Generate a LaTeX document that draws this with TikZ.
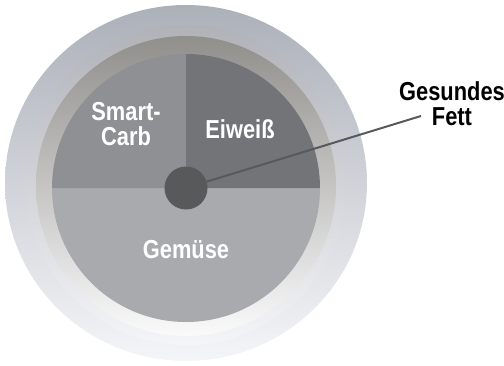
\documentclass[tikz,border=0pt]{standalone}
\usepackage{fontspec}
\newfontfamily\platefont{Liberation Sans}[FakeStretch=0.84]
\usepackage{tikz}
\usetikzlibrary{positioning,calc}
\definecolor{rimtop}{RGB}{172,176,185}
\definecolor{rimmid}{RGB}{206,208,214}
\definecolor{rimbot}{RGB}{244,245,248}
\definecolor{liptop}{RGB}{176,178,184}
\definecolor{lipmid}{RGB}{220,222,227}
\definecolor{welltop}{RGB}{145,143,140}
\definecolor{wellmid}{RGB}{205,206,210}
\definecolor{wellbot}{RGB}{250,250,251}
\definecolor{carbgray}{RGB}{143,144,148}
\definecolor{eiweissgray}{RGB}{115,116,120}
\definecolor{gemuesegray}{RGB}{169,170,174}
\definecolor{fatgray}{RGB}{88,89,91}

\begin{document}
\begin{tikzpicture}[
        x=1pt, y=1pt,
        every node/.style={font=\platefont\bfseries\fontsize{26}{25}\selectfont, inner sep=0pt},
        portion/.style={text=white, align=center},
        callout/.style={text=black, align=center},
    ]
        \useasboundingbox (0,0) rectangle (504,365);

        % Teller
        \shade[top color=rimtop, middle color=rimmid, bottom color=rimbot] (186,182) ellipse [x radius=181, y radius=178];
        \shade[top color=liptop, middle color=lipmid, bottom color=rimbot] (186,180) circle [radius=160];
        \shade[top color=welltop, middle color=wellmid, bottom color=wellbot] (186,179) circle [radius=150];

        % Portionen
        \fill[gemuesegray] (186,177) -- (52,177) arc[start angle=180, end angle=360, radius=134] -- cycle;
        \fill[carbgray] (186,177) -- (186,311) arc[start angle=90, end angle=180, radius=134] -- cycle;
        \fill[eiweissgray] (186,177) -- (320,177) arc[start angle=0, end angle=90, radius=134] -- cycle;

        \node[portion] (carb) at (126,241) {Smart-\\Carb};
        \node[portion] (eiweiss) at (240,236) {Eiwei\ss};
        \node[portion] (gemuese) at (186,115) {Gemüse};

        \node[circle, fill=fatgray, minimum size=43pt] (fat) at (186,177) {};
        \coordinate (fatend) at (421,249);
        \draw[fatgray, line width=2pt] (fat) -- (fatend);

        \node[callout] (fatlabel) at (452,261) {Gesundes\\Fett};
    \end{tikzpicture}
\end{document}
